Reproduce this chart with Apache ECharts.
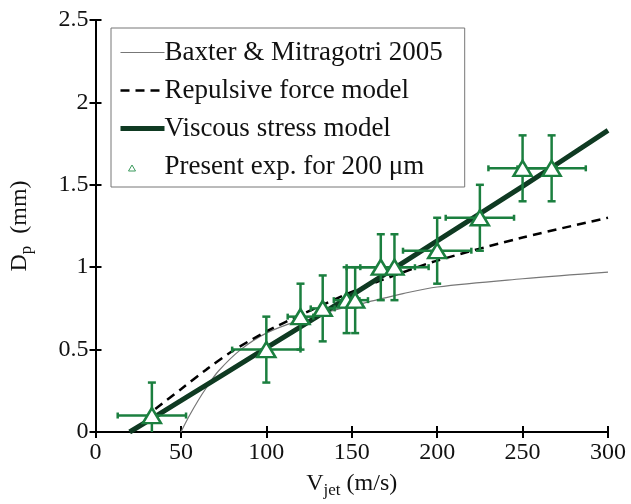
<!DOCTYPE html>
<html>
<head>
<meta charset="utf-8">
<script src="https://cdn.jsdelivr.net/npm/echarts@6/dist/echarts.min.js"></script>
<style>
html, body { margin: 0; padding: 0; background: #fff; }
#chart { width: 631px; height: 504px; }
</style>
</head>
<body>
<div id="chart"></div>
<script>
var chart = echarts.init(document.getElementById('chart'));

var FONT = '"Liberation Serif", "DejaVu Serif", serif';

// experiment: jet velocity (m/s), penetration depth (mm), error bars
var expV = [33, 100, 120, 133, 147, 152, 167, 175, 200, 225, 250, 267];
var expD = [0.1, 0.5, 0.7, 0.75, 0.8, 0.8, 1.0, 1.0, 1.1, 1.3, 1.6, 1.6];
var expVErr = [20, 20, 7.5, 7, 7.5, 7.5, 20, 20, 20, 20, 20, 20];
var expDErr = [0.2, 0.2, 0.2, 0.2, 0.2, 0.2, 0.2, 0.2, 0.2, 0.2, 0.2, 0.2];

// Baxter & Mitragotri 2005
var baxterV = [50, 55, 60, 65, 72, 85, 100, 120, 140, 160, 180, 200, 250, 300];
var baxterD = [0, 0.1, 0.19, 0.27, 0.37, 0.5, 0.6, 0.68, 0.74, 0.79, 0.84, 0.88, 0.93, 0.97];

// repulsive force model
var repV = [35, 50, 65, 80, 100, 120, 150, 175, 200, 250, 300];
var repD = [0.14, 0.26, 0.38, 0.49, 0.61, 0.71, 0.85, 0.95, 1.04, 1.18, 1.3];

// viscous stress model
var visV = [20, 50, 100, 150, 200, 250, 300];
var visD = [0, 0.19, 0.51, 0.83, 1.16, 1.49, 1.83];

function pairs(a, b) {
	return a.map(function (v, i) { return [v, b[i]]; });
}

var GREEN = '#1b7f3f';
var DARK = '#0f3a22';
var axisLineStyle = { color: '#000', width: 2 };
var noSymbol = { opacity: 0 };

option = {
	backgroundColor: '#fff',
	animation: false,
	textStyle: { fontFamily: FONT },
	grid: { left: 95, right: 23, top: 20, bottom: 62 },
	legend: {
		orient: 'vertical',
		left: 111,
		top: 28,
		padding: [11, 22, 7, 7],
		itemGap: 11,
		itemWidth: 44,
		itemHeight: 14,
		borderColor: '#777',
		borderWidth: 1,
		backgroundColor: '#fff',
		textStyle: { fontFamily: FONT, fontSize: 27, color: '#111', padding: [0, 0, 0, -5] },
		data: [
			{ name: 'Baxter & Mitragotri 2005', itemStyle: noSymbol,
				lineStyle: { color: '#777', width: 1.2 } },
			{ name: 'Repulsive force model', itemStyle: noSymbol,
				lineStyle: { color: '#000', width: 2.5, type: [9, 6] } },
			{ name: 'Viscous stress model', itemStyle: noSymbol,
				lineStyle: { color: DARK, width: 5 } },
			{ name: 'Present exp. for 200 μm',
				icon: 'path://M-22,-7 M22,7 M-10.5,-1.5 L-7,4.5 L-14,4.5 Z',
				itemStyle: { color: '#fff', borderColor: '#3a9a5c', borderWidth: 1 } }
		]
	},
	xAxis: [{
		type: 'value', min: 0, max: 300, interval: 50,
		name: '{a|V}{s|jet}{a| (m/s)}',
		nameLocation: 'middle', nameGap: 36,
		nameTextStyle: {
			rich: {
				a: { fontFamily: FONT, fontSize: 24, color: '#111' },
				s: { fontFamily: FONT, fontSize: 17, color: '#111', padding: [14, 0, 0, 0] }
			}
		},
		axisLine: { lineStyle: axisLineStyle },
		axisTick: { inside: true, length: 6, lineStyle: { color: '#000', width: 2 } },
		axisLabel: { fontFamily: FONT, fontSize: 24, color: '#111', margin: 9 },
		splitLine: { show: false }
	}, {
		type: 'value', min: 0, max: 300, interval: 50, position: 'top',
		axisLine: { lineStyle: axisLineStyle },
		axisTick: { inside: true, length: 6, lineStyle: { color: '#000', width: 2 } },
		axisLabel: { show: false },
		splitLine: { show: false }
	}],
	yAxis: [{
		type: 'value', min: 0, max: 2.5, interval: 0.5,
		name: '{a|D}{s|p}{a|  (mm)}',
		nameLocation: 'middle', nameGap: 60, nameRotate: 90,
		nameTextStyle: {
			rich: {
				a: { fontFamily: FONT, fontSize: 24, color: '#111' },
				s: { fontFamily: FONT, fontSize: 17, color: '#111', padding: [14, 0, 0, 0] }
			}
		},
		axisLine: { lineStyle: axisLineStyle },
		axisTick: { inside: true, length: 6, lineStyle: { color: '#000', width: 2 } },
		axisLabel: { fontFamily: FONT, fontSize: 24, color: '#111', margin: 7 },
		splitLine: { show: false }
	}, {
		type: 'value', min: 0, max: 2.5, interval: 0.5, position: 'right',
		axisLine: { lineStyle: axisLineStyle },
		axisTick: { inside: true, length: 6, lineStyle: { color: '#000', width: 2 } },
		axisLabel: { show: false },
		splitLine: { show: false }
	}],
	series: [{
		name: 'Baxter & Mitragotri 2005',
		type: 'line',
		data: pairs(baxterV, baxterD),
		smooth: 0.35,
		symbol: 'none',
		lineStyle: { color: '#777', width: 1.2 },
		itemStyle: { color: '#777' },
		z: 2
	}, {
		name: 'Repulsive force model',
		type: 'line',
		data: pairs(repV, repD),
		smooth: 0.3,
		symbol: 'none',
		lineStyle: { color: '#000', width: 2.5, type: [9, 6] },
		itemStyle: { color: '#000' },
		z: 2
	}, {
		name: 'Viscous stress model',
		type: 'line',
		data: pairs(visV, visD),
		smooth: 0.3,
		symbol: 'none',
		lineStyle: { color: DARK, width: 5 },
		itemStyle: { color: DARK },
		z: 3
	}, {
		name: 'errorbars',
		type: 'custom',
		data: expV.map(function (v, i) { return [v, expD[i], expVErr[i], expDErr[i]]; }),
		clip: true,
		z: 4,
		renderItem: function (params, api) {
			var v = api.value(0), d = api.value(1), ev = api.value(2), ed = api.value(3);
			var l = api.coord([v - ev, d]);
			var r = api.coord([v + ev, d]);
			var t = api.coord([v, d + ed]);
			var b = api.coord([v, d - ed]);
			var st = { stroke: GREEN, lineWidth: 2.5 };
			var lines = [
				[l[0], l[1], r[0], r[1]],
				[l[0], l[1] - 3, l[0], l[1] + 3],
				[r[0], r[1] - 3, r[0], r[1] + 3],
				[t[0], t[1], b[0], b[1]],
				[t[0] - 4, t[1], t[0] + 4, t[1]],
				[b[0] - 4, b[1], b[0] + 4, b[1]]
			];
			return {
				type: 'group',
				children: lines.map(function (p) {
					return { type: 'line', shape: { x1: p[0], y1: p[1], x2: p[2], y2: p[3] }, style: st };
				})
			};
		}
	}, {
		name: 'Present exp. for 200 μm',
		type: 'scatter',
		data: pairs(expV, expD),
		symbol: 'triangle',
		symbolSize: [18, 15],
		itemStyle: { color: '#fff', borderColor: GREEN, borderWidth: 2.5, opacity: 1 },
		z: 5
	}]
};

chart.setOption(option);
</script>
</body>
</html>
